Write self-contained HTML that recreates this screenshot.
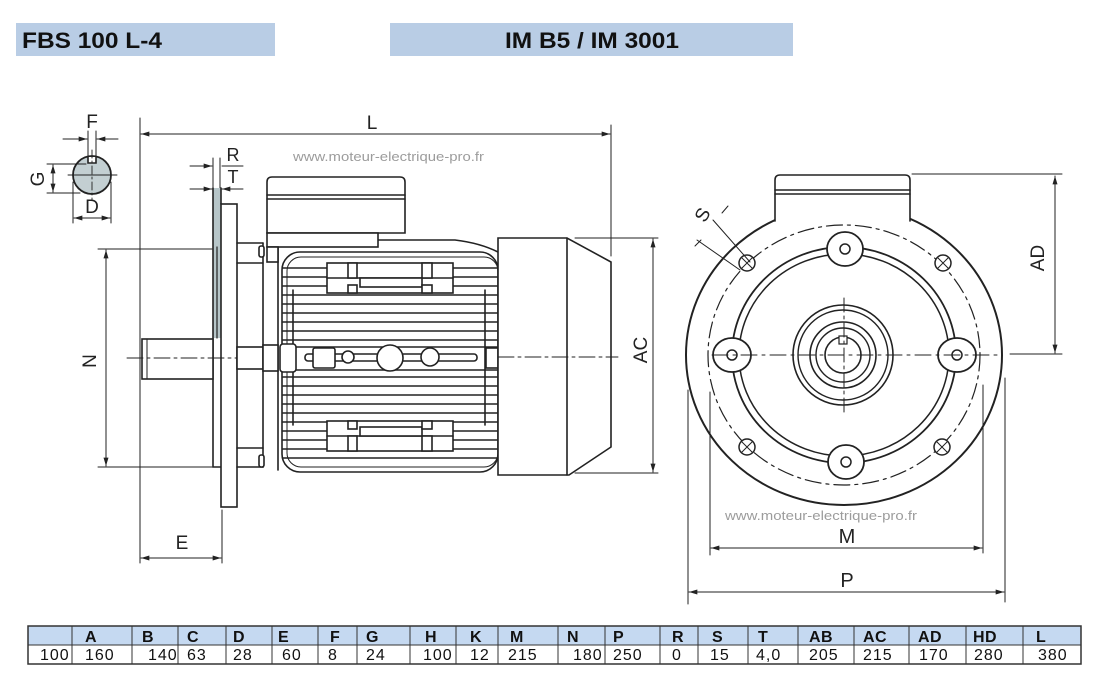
<!DOCTYPE html>
<html><head><meta charset="utf-8">
<style>html,body{margin:0;padding:0;background:#fff}svg{display:block}</style>
</head><body>
<svg width="1106" height="681" viewBox="0 0 1106 681" xmlns="http://www.w3.org/2000/svg" font-family="'Liberation Sans', Arial, sans-serif">
<defs>
<marker id="ar" viewBox="0 0 10 6" refX="10" refY="3" markerWidth="9" markerHeight="5" markerUnits="userSpaceOnUse" orient="auto-start-reverse"><path d="M0,0L10,3L0,6z" fill="#222"/></marker>
<clipPath id="hc"><rect x="282" y="252" width="216" height="220" rx="18"/></clipPath>
</defs>
<rect width="1106" height="681" fill="#fff"/>

<!-- Titles -->
<rect x="16" y="23" width="259" height="33" fill="#b9cde5"/>
<text x="22" y="48" font-size="22" font-weight="bold" fill="#111" textLength="140" lengthAdjust="spacingAndGlyphs">FBS 100 L-4</text>
<rect x="390" y="23" width="403" height="33" fill="#b9cde5"/>
<text x="505" y="48" font-size="22" font-weight="bold" fill="#111" textLength="174" lengthAdjust="spacingAndGlyphs">IM B5 / IM 3001</text>

<!-- watermarks -->
<text x="293" y="161" font-size="13" fill="#9c9c9c" textLength="191" lengthAdjust="spacingAndGlyphs">www.moteur-electrique-pro.fr</text>
<text x="725" y="520" font-size="13" fill="#9c9c9c" textLength="192" lengthAdjust="spacingAndGlyphs">www.moteur-electrique-pro.fr</text>

<g stroke="#222" fill="none" stroke-width="1.6" stroke-linecap="round">
<!-- shaft section -->
<circle cx="92" cy="175" r="19" fill="#c3cfd2" stroke-width="1.8"/>
<path d="M88,157 L88,163 L96,163 L96,157" fill="#fff"/>
<line x1="68" y1="175" x2="117" y2="175" stroke-width="0.9"/>
<line x1="92" y1="150" x2="92" y2="200" stroke-width="0.9" stroke-dasharray="8 3 2 3"/>
<line x1="88" y1="131" x2="88" y2="158" stroke-width="1"/>
<line x1="96" y1="131" x2="96" y2="158" stroke-width="1"/>
<line x1="63" y1="139" x2="87" y2="139" stroke-width="1" marker-end="url(#ar)"/>
<line x1="118" y1="139" x2="97" y2="139" stroke-width="1" marker-end="url(#ar)"/>
<line x1="47" y1="164" x2="86" y2="164" stroke-width="1"/>
<line x1="47" y1="193" x2="80" y2="193" stroke-width="1"/>
<line x1="53" y1="165" x2="53" y2="192" stroke-width="1" marker-start="url(#ar)" marker-end="url(#ar)"/>
<line x1="73" y1="182" x2="73" y2="223" stroke-width="1"/>
<line x1="111" y1="182" x2="111" y2="223" stroke-width="1"/>
<line x1="74" y1="218" x2="110" y2="218" stroke-width="1" marker-start="url(#ar)" marker-end="url(#ar)"/>

<!-- L dimension -->
<line x1="140" y1="118" x2="140" y2="563" stroke-width="1"/>
<line x1="141" y1="134" x2="610" y2="134" stroke-width="1" marker-start="url(#ar)" marker-end="url(#ar)"/>
<line x1="611" y1="125" x2="611" y2="256" stroke-width="1"/>

<!-- R/T -->
<line x1="213" y1="158" x2="213" y2="190" stroke-width="1"/>
<line x1="220" y1="158" x2="220" y2="190" stroke-width="1"/>
<line x1="190" y1="166" x2="212" y2="166" stroke-width="1" marker-end="url(#ar)"/>
<line x1="190" y1="189" x2="212" y2="189" stroke-width="1" marker-end="url(#ar)"/>
<line x1="243" y1="189" x2="222" y2="189" stroke-width="1" marker-end="url(#ar)"/>
<line x1="222" y1="166" x2="243" y2="166" stroke-width="1"/>

<!-- flange -->
<rect x="213" y="188" width="8" height="150" fill="#b7c6c9" stroke="none"/>
<path d="M213,188 L213,467 L221,467"/>
<line x1="221" y1="188" x2="221" y2="204"/>
<line x1="217" y1="247" x2="217" y2="338" stroke-width="1.2"/>
<rect x="221" y="204" width="16" height="303" fill="#fff"/>

<!-- N -->
<line x1="98" y1="249" x2="212" y2="249" stroke-width="1"/>
<line x1="98" y1="467" x2="212" y2="467" stroke-width="1"/>
<line x1="106" y1="250" x2="106" y2="466" stroke-width="1" marker-start="url(#ar)" marker-end="url(#ar)"/>

<!-- shaft -->
<rect x="142" y="339" width="71" height="40" fill="#fff"/>
<line x1="147" y1="339" x2="147" y2="379" stroke-width="1"/>
<line x1="127" y1="358" x2="300" y2="358" stroke-width="0.9" stroke-dasharray="16 4 3 4"/>

<!-- E -->
<line x1="222" y1="510" x2="222" y2="563" stroke-width="1"/>
<line x1="141" y1="558" x2="221" y2="558" stroke-width="1" marker-start="url(#ar)" marker-end="url(#ar)"/>

<!-- between flange and housing -->
<path d="M237,243 H263 M237,263 H263 M237,448 H263 M237,467 H263"/>
<line x1="263" y1="243" x2="263" y2="467"/>
<line x1="278" y1="243" x2="278" y2="470"/>
<rect x="259" y="246" width="5" height="11" rx="2" fill="#fff"/>
<rect x="259" y="455" width="5" height="12" rx="2" fill="#fff"/>
<rect x="237" y="347" width="26" height="22" fill="#fff"/>
<rect x="263" y="345" width="15" height="26" fill="#fff"/>

<!-- housing -->
<rect x="282" y="252" width="216" height="220" rx="18" fill="#fff"/>
<g clip-path="url(#hc)" stroke-width="1.5">
<path d="M283,268H497M283,277H497M283,286H497M283,295H497M283,304H497M283,313H497M283,322H497M283,331H497M283,340H497M283,347H497M283,370H497M283,377H497M283,386H497M283,395H497M283,404H497M283,413H497M283,422H497M283,431H497M283,440H497M283,449H497M283,458H497"/>
</g>
<rect x="287" y="257" width="211" height="210" rx="14" stroke-width="1"/>
<line x1="293" y1="290" x2="293" y2="425"/>
<line x1="485" y1="290" x2="485" y2="425"/>
<rect x="280" y="344" width="16" height="28" rx="3" fill="#fff"/>

<!-- top pad -->
<g fill="#fff">
<rect x="327" y="263" width="126" height="30"/>
<line x1="327" y1="278" x2="453" y2="278"/>
<rect x="348" y="263" width="9" height="15"/>
<rect x="422" y="263" width="10" height="15"/>
<rect x="360" y="278" width="62" height="9"/>
<rect x="348" y="285" width="9" height="8"/>
<rect x="422" y="285" width="10" height="8"/>
</g>
<!-- bottom pad -->
<g fill="#fff" transform="translate(0,714) scale(1,-1)">
<rect x="327" y="263" width="126" height="30"/>
<line x1="327" y1="278" x2="453" y2="278"/>
<rect x="348" y="263" width="9" height="15"/>
<rect x="422" y="263" width="10" height="15"/>
<rect x="360" y="278" width="62" height="9"/>
<rect x="348" y="285" width="9" height="8"/>
<rect x="422" y="285" width="10" height="8"/>
</g>
<!-- central band -->
<rect x="305" y="354" width="172" height="7" rx="3" fill="#fff"/>
<rect x="313" y="348" width="22" height="20" rx="2" fill="#fff"/>
<circle cx="348" cy="357" r="6" fill="#fff"/>
<circle cx="390" cy="358" r="13" fill="#fff"/>
<circle cx="430" cy="357" r="9" fill="#fff"/>
<rect x="486" y="348" width="12" height="20" fill="#fff"/>

<!-- terminal box -->
<path d="M378,240 L455,240 Q480,243 498,252" fill="#fff"/>
<path d="M267,233 L267,182 Q267,177 272,177 L400,177 Q405,177 405,182 L405,233 Z" fill="#fff"/>
<line x1="267" y1="195" x2="405" y2="195"/>
<line x1="267" y1="199" x2="405" y2="199"/>
<rect x="267" y="233" width="111" height="14" fill="#fff"/>
<rect x="267" y="247" width="11" height="15" fill="#fff"/>

<!-- fan cover -->
<path d="M498,238 L567,238 L611,262 L611,447 L569,475 L498,475 Z" fill="#fff"/>
<line x1="567" y1="238" x2="567" y2="475"/>
<line x1="498" y1="357" x2="618" y2="357" stroke-width="0.9" stroke-dasharray="16 4 3 4"/>

<!-- AC -->
<line x1="575" y1="238" x2="658" y2="238" stroke-width="1"/>
<line x1="575" y1="473" x2="658" y2="473" stroke-width="1"/>
<line x1="653" y1="239" x2="653" y2="472" stroke-width="1" marker-start="url(#ar)" marker-end="url(#ar)"/>

<!-- ===== Right view ===== -->
<ellipse cx="844" cy="355" rx="158" ry="150" stroke-width="2"/>
<path d="M775,221 L775,180 Q775,175 780,175 L905,175 Q910,175 910,180 L910,221" fill="#fff"/>
<line x1="775" y1="190" x2="910" y2="190"/>
<line x1="775" y1="194" x2="910" y2="194"/>
<ellipse cx="844" cy="355" rx="136" ry="130" stroke-width="1.2" stroke-dasharray="16 5 3 5"/>
<ellipse cx="844" cy="355" rx="112" ry="108" stroke-width="1.8"/>
<ellipse cx="844" cy="355" rx="105" ry="101" stroke-width="1.5"/>
<g fill="#fff" stroke-width="1.8">
<ellipse cx="732" cy="355" rx="19" ry="17"/>
<ellipse cx="957" cy="355" rx="19" ry="17"/>
<ellipse cx="845" cy="249" rx="18" ry="17"/>
<ellipse cx="846" cy="462" rx="18" ry="17"/>
</g>
<g stroke-width="1.5">
<circle cx="732" cy="355" r="5"/>
<circle cx="957" cy="355" r="5"/>
<circle cx="845" cy="249" r="5"/>
<circle cx="846" cy="462" r="5"/>
</g>
<g stroke-width="1.5" fill="#fff">
<circle cx="747" cy="263" r="8"/><path d="M742,258L752,268M752,258L742,268" stroke-width="1"/>
<circle cx="943" cy="263" r="8"/><path d="M938,258L948,268M948,258L938,268" stroke-width="1"/>
<circle cx="747" cy="447" r="8"/><path d="M742,442L752,452M752,442L742,452" stroke-width="1"/>
<circle cx="942" cy="447" r="8"/><path d="M937,442L947,452M947,442L937,452" stroke-width="1"/>
</g>
<circle cx="843" cy="355" r="50" stroke-width="1.6"/>
<circle cx="843" cy="355" r="45" stroke-width="1.4"/>
<circle cx="843" cy="355" r="33" stroke-width="1.6"/>
<circle cx="843" cy="355" r="27" stroke-width="1.4"/>
<circle cx="843" cy="355" r="18" stroke-width="1.6"/>
<rect x="839" y="336" width="8" height="8" fill="#fff" stroke-width="1.2"/>
<line x1="712" y1="355" x2="1002" y2="355" stroke-width="1" stroke-dasharray="16 5 3 5"/>
<line x1="844" y1="298" x2="844" y2="412" stroke-width="1" stroke-dasharray="14 4 3 4"/>

<!-- S -->
<line x1="713" y1="220" x2="750" y2="262" stroke-width="1"/>
<line x1="697" y1="240" x2="740" y2="270" stroke-width="1"/>
<line x1="722" y1="213" x2="728" y2="206" stroke-width="1"/>
<line x1="695" y1="246" x2="701" y2="240" stroke-width="1"/>

<!-- AD -->
<line x1="912" y1="174" x2="1062" y2="174" stroke-width="1"/>
<line x1="1055" y1="176" x2="1055" y2="353" stroke-width="1" marker-start="url(#ar)" marker-end="url(#ar)"/>
<line x1="1010" y1="354" x2="1062" y2="354" stroke-width="1"/>

<!-- M -->
<line x1="710" y1="392" x2="710" y2="555" stroke-width="1"/>
<line x1="983" y1="385" x2="983" y2="553" stroke-width="1"/>
<line x1="711" y1="548" x2="982" y2="548" stroke-width="1" marker-start="url(#ar)" marker-end="url(#ar)"/>
<!-- P -->
<line x1="688" y1="390" x2="688" y2="604" stroke-width="1"/>
<line x1="1005" y1="378" x2="1005" y2="602" stroke-width="1"/>
<line x1="689" y1="592" x2="1004" y2="592" stroke-width="1" marker-start="url(#ar)" marker-end="url(#ar)"/>
</g>

<!-- drawing labels -->
<g font-size="19" fill="#222" text-anchor="middle">
<text x="92" y="128">F</text>
<text transform="translate(44,179) rotate(-90)">G</text>
<text x="92" y="213">D</text>
<text x="372" y="129">L</text>
<text x="233" y="161" font-size="18">R</text>
<text x="233" y="183" font-size="18">T</text>
<text transform="translate(96,361) rotate(-90)">N</text>
<text x="182" y="549">E</text>
<text transform="translate(647,350) rotate(-90)">AC</text>
<text transform="translate(1044,258) rotate(-90)">AD</text>
<text transform="translate(708,218) rotate(-60)">S</text>
<text x="847" y="543" font-size="20">M</text>
<text x="847" y="587" font-size="20">P</text>
</g>

<!-- Table -->
<rect x="28" y="626" width="1053" height="19" fill="#c5d9f1"/>
<g stroke="#333" stroke-width="1" fill="none">
<rect x="28" y="626" width="1053" height="38" stroke-width="1.5"/>
<line x1="28" y1="645" x2="1081" y2="645"/>
<path d="M72,626V664M132,626V664M178,626V664M226,626V664M272,626V664M318,626V664M357,626V664M410,626V664M456,626V664M498,626V664M558,626V664M605,626V664M660,626V664M698,626V664M748,626V664M798,626V664M854,626V664M909,626V664M966,626V664M1023,626V664"/>
</g>
<g font-size="16" font-weight="bold" fill="#111" letter-spacing="0.5">
<text x="85" y="642">A</text><text x="142" y="642">B</text><text x="187" y="642">C</text><text x="233" y="642">D</text>
<text x="278" y="642">E</text><text x="330" y="642">F</text><text x="366" y="642">G</text><text x="425" y="642">H</text>
<text x="470" y="642">K</text><text x="510" y="642">M</text><text x="567" y="642">N</text><text x="613" y="642">P</text>
<text x="672" y="642">R</text><text x="712" y="642">S</text><text x="758" y="642">T</text><text x="809" y="642">AB</text>
<text x="863" y="642">AC</text><text x="918" y="642">AD</text><text x="973" y="642">HD</text><text x="1036" y="642">L</text>
</g>
<g font-size="16" fill="#111" letter-spacing="1">
<text x="40" y="660">100</text><text x="85" y="660">160</text><text x="148" y="660">140</text><text x="187" y="660">63</text>
<text x="233" y="660">28</text><text x="282" y="660">60</text><text x="328" y="660">8</text><text x="366" y="660">24</text>
<text x="423" y="660">100</text><text x="470" y="660">12</text><text x="508" y="660">215</text><text x="573" y="660">180</text>
<text x="613" y="660">250</text><text x="672" y="660">0</text><text x="710" y="660">15</text><text x="756" y="660">4,0</text>
<text x="809" y="660">205</text><text x="863" y="660">215</text><text x="919" y="660">170</text><text x="974" y="660">280</text>
<text x="1038" y="660">380</text>
</g>
</svg>
</body></html>
